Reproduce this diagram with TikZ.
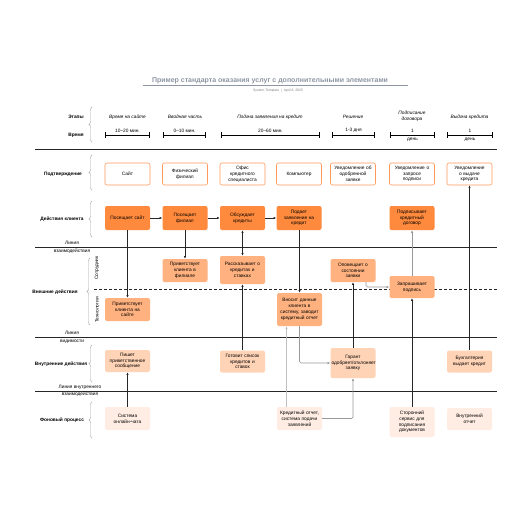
\documentclass[tikz,border=0pt]{standalone}
\usepackage{fontspec}
\setmainfont{Liberation Sans}
\usetikzlibrary{arrows.meta,decorations.pathreplacing}

\definecolor{orDark}{HTML}{FF8A3D}
\definecolor{orMid}{HTML}{FFB27F}
\definecolor{orLight}{HTML}{FFD3B6}
\definecolor{orPale}{HTML}{FFEDE3}
\definecolor{orLine}{HTML}{FF9A5C}
\definecolor{titleGray}{HTML}{8E96A3}

\begin{document}
\begin{tikzpicture}[x=1pt, y=-1pt,
    font=\fontsize{4.8}{5.8}\selectfont,
    >={Latex[length=2.6pt,width=2.2pt]},
    box/.style={rounded corners=2pt, text width=43pt, inner xsep=1pt, inner ysep=1.5pt, align=center},
    evid/.style={box, draw=orLine, line width=0.6pt, fill=white, minimum height=22pt},
    cust/.style={box, fill=orDark, minimum height=24pt},
    front/.style={box, fill=orMid},
    back/.style={box, fill=orLight},
    supp/.style={box, fill=orPale},
    rowlab/.style={font=\fontsize{4.8}{5.8}\selectfont\bfseries, align=center},
    stage/.style={font=\fontsize{4.8}{5.8}\selectfont\itshape, align=center},
    lanelab/.style={align=center, font=\fontsize{4.8}{7.8}\selectfont},
    sep/.style={line width=0.8pt, draw=black!85},
    curly/.style={draw=black!35, line width=0.4pt, decorate, decoration={brace, amplitude=3pt}},
    span/.style={line width=0.7pt, {Bar[width=6pt]}-{Bar[width=6pt]}},
    link/.style={draw=black!85, line width=0.7pt, ->},
    soft/.style={draw=black!40, line width=0.7pt, ->, rounded corners=1.5pt}
  ]
  \useasboundingbox[fill=white] (0,0) rectangle (516,516);

  % title
  \node[font=\fontsize{7}{8}\selectfont\bfseries, text=titleGray] (title) at (270,81)
    {Пример стандарта оказания услуг с дополнительными элементами};
  \draw[titleGray, line width=0.6pt] (143,85.5) -- (408,85.5);
  \node[font=\fontsize{3.4}{4}\selectfont, text=black!50] (subtitle) at (278,90.5)
    {System Template \ | \ April 8, 2025};

  % stages and time
  \node[rowlab] (lblStages) at (76,117) {Этапы};
  \node[rowlab] (lblTime) at (76,135) {Время};
  \draw[curly] (92,142) -- (92,107);
  \node[stage] (stWeb) at (127.5,117) {Время на сайте};
  \node[stage] (stIntro) at (185,117) {Вводная часть};
  \node[stage] (stApply) at (270,117) {Подача заявления на кредит};
  \node[stage] (stDecide) at (353,117) {Решение};
  \node[stage] (stSign) at (412,116) {Подписание\\договора};
  \node[stage] (stPay) at (469.5,117) {Выдача кредита};
  \draw[span] (105,135) -- node[above=-1pt] {10–20 мин.} (150,135);
  \draw[span] (163,135) -- node[above=-1pt] {0–10 мин.} (206,135);
  \draw[span] (221,135) -- node[above=-1pt] {20–60 мин.} (320,135);
  \draw[span] (332,135) -- node[above=-1pt] {1-3 дня} (375,135);
  \draw[span] (390,135) -- node[above=-1pt] {1} node[below=-0.5pt] {день} (435,135);
  \draw[span] (447,135) -- node[above=-1pt] {1} node[below=-0.5pt] {день} (493,135);

  % lane separators
  \draw[sep] (35,149) -- (497,149);
  \draw[sep] (35,247) -- (497,247);
  \draw[sep, dash pattern=on 3pt off 2pt] (94,289) -- (497,289);
  \draw[sep] (35,337) -- (497,337);
  \draw[sep] (35,391) -- (497,391);
  \node[lanelab] (lnInteract) at (72,247.5) {Линия\\взаимодействия};
  \node[lanelab] (lnVisible) at (72,337.5) {Линия\\видимости};
  \node[lanelab, font=\fontsize{4.8}{6.8}\selectfont] (lnInternal) at (80,390.5) {Линия внутреннего\\взаимодействия};

  % lane labels
  \node[rowlab] (lblEvidence) at (63,174) {Подтверждение};
  \draw[curly] (92,190) -- (92,155);
  \node[rowlab] (lblCustomer) at (62,219) {Действия клиента};
  \draw[curly] (92,237) -- (92,201);
  \node[rowlab] (lblFront) at (55,292) {Внешние действия};
  \draw[curly] (90,325) -- (90,258);
  \node[rotate=90] (lblStaff) at (97,268) {Сотрудник};
  \node[rotate=90] (lblTech) at (97,310) {Технологии};
  \node[rowlab] (lblBack) at (61,364) {Внутренние действия};
  \draw[curly] (92,382) -- (92,345);
  \node[rowlab] (lblSupport) at (62,420) {Фоновый процесс};
  \draw[curly] (92,438) -- (92,402);

  % physical evidence
  \node[evid] (evSite) at (127.5,174) {Сайт};
  \node[evid] (evBranch) at (185,174) {Физический\\филиал};
  \node[evid] (evOffice) at (242.5,174) {Офис\\кредитного\\специалиста};
  \node[evid] (evPC) at (299,174) {Компьютер};
  \node[evid] (evApproval) at (353,174) {Уведомление об\\одобренной\\заявке};
  \node[evid] (evSignReq) at (412,174) {Уведомление о\\запросе\\подписи};
  \node[evid] (evPayout) at (469.5,174) {Уведомление\\о выдаче\\кредита};

  % customer actions
  \node[cust] (csSite) at (127.5,218) {Посещает сайт};
  \node[cust] (csBranch) at (185,218) {Посещает\\филиал};
  \node[cust] (csTalk) at (242.5,218) {Обсуждает\\кредиты};
  \node[cust] (csApply) at (299,218) {Подает\\заявление на\\кредит};
  \node[cust] (csSign) at (412,218) {Подписывает\\кредитный\\договор};

  % frontstage
  \node[front, minimum height=23pt] (fsGreet) at (185,270.5) {Приветствует\\клиента в\\филиале};
  \node[front, minimum height=28pt] (fsTell) at (242.5,270) {Рассказывает о\\кредитах и\\ставках};
  \node[front, minimum height=23pt] (fsNotify) at (353,270.5) {Оповещает о\\состоянии\\заявки};
  \node[front, minimum height=22pt] (fsSign) at (412,287) {Запрашивает\\подпись};
  \node[front, minimum height=23pt] (teGreet) at (127.5,309.5) {Приветствует\\клиента на\\сайте};
  \node[front, minimum height=33pt] (teEnter) at (299.5,309.5) {Вносит данные\\клиента в\\систему, заводит\\кредитный отчет};

  % backstage
  \node[back, minimum height=22pt] (bsWrite) at (127.5,361) {Пишет\\приветственное\\сообщение};
  \node[back, minimum height=22pt] (bsList) at (242.5,361.5) {Готовит список\\кредитов и\\ставок};
  \node[back, minimum height=30pt] (bsGuar) at (353,363) {Гарант\\одобряет/отклоняет\\заявку};
  \node[back, minimum height=22pt] (bsPay) at (469.5,361.5) {Бухгалтерия\\выдает кредит};

  % support processes
  \node[supp, minimum height=23pt] (spChat) at (127.5,418.5) {Система\\онлайн-чата};
  \node[supp, minimum height=23pt] (spCredit) at (299.5,418.5) {Кредитный отчет,\\система подачи\\заявлений};
  \node[supp, minimum height=30pt] (spSign) at (412,422) {Сторонний\\сервис для\\подписания\\документов};
  \node[supp, minimum height=22pt] (spReport) at (469.5,419) {Внутренний\\отчет};

  % connectors
  \draw[link] (csSite) -- (csBranch);
  \draw[link] (csBranch) -- (csTalk);
  \draw[link] (csTalk) -- (csApply);
  \draw[link] (csSite) -- (teGreet);
  \draw[link] (csBranch) -- (fsGreet);
  \draw[link, <->] (csTalk) -- (fsTell);
  \draw[link] (bsList) -- (fsTell);
  \draw[link] (csApply.south -| teEnter.north) -- (teEnter.north);
  \draw[soft] (teEnter.south) |- (bsGuar.west);
  \draw[soft, draw=black!25, line width=1pt] ([xshift=-13pt]spCredit.north) -- ([xshift=-13pt]teEnter.south);
  \draw[soft] (spCredit.east) -| (bsGuar.south);
  \draw[link] (bsGuar) -- (fsNotify);
  \draw[soft] ([xshift=13pt]fsNotify.south) |- (fsSign.west);
  \draw[soft] (fsSign) -- (csSign);
  \draw[link] (spSign) -- (fsSign);
  \draw[link] (bsPay) -- (evPayout);
  \draw[link] (spChat) -- (bsWrite);
\end{tikzpicture}
\end{document}
